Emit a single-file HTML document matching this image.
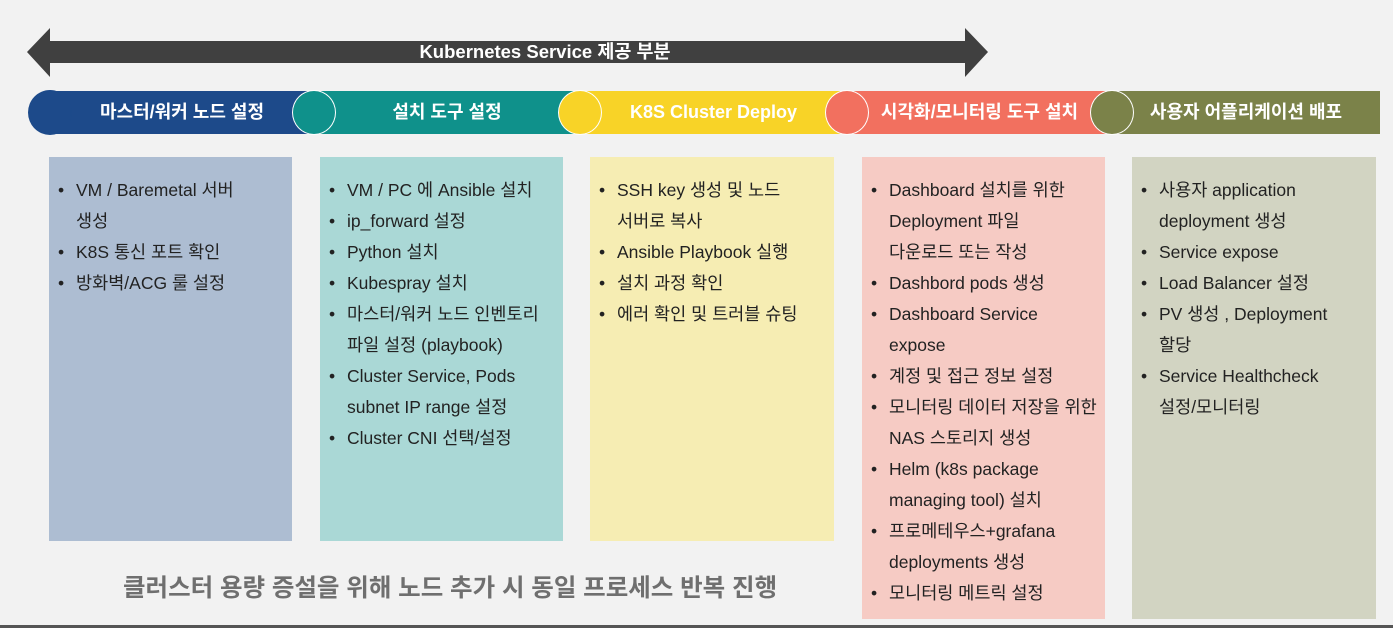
<!DOCTYPE html>
<html><head><meta charset="utf-8"><style>
body{margin:0;width:1393px;height:628px;background:#f2f2f2;position:relative;overflow:hidden;font-family:"Liberation Sans","Noto Sans CJK KR",sans-serif}
.bar{position:absolute;top:91px;height:43px;color:#fff;font-weight:bold;font-size:18px;line-height:43px;text-align:center}
.c{position:absolute;top:90px;width:42px;height:43px;border-radius:50%;border:1.5px solid #fff}
.box{position:absolute;top:157px;box-sizing:border-box;padding:18px 4px 0 27px;font-size:17.5px;line-height:31px;color:#222;white-space:nowrap}
.box div{position:relative}
.box .b:before{content:"•";position:absolute;left:-18px}
</style></head><body>
<svg style="position:absolute;left:0;top:0" width="1393" height="90">
<polygon points="27,52 50,28 50,41 965,41 965,28 988,52 965,77 965,63 50,63 50,77" fill="#404040"/>
<text x="545" y="58" fill="#fff" font-size="18.5" font-weight="bold" text-anchor="middle" font-family="Liberation Sans, Noto Sans CJK KR, sans-serif">Kubernetes Service 제공 부분</text>
</svg>
<div class="bar" style="left:50px;width:264px;background:#1d4a8a">마스터/워커 노드 설정</div>
<div class="bar" style="left:314px;width:266px;background:#0f918b">설치 도구 설정</div>
<div class="bar" style="left:580px;width:267px;background:#f8d327">K8S Cluster Deploy</div>
<div class="bar" style="left:847px;width:265px;background:#f2705f">시각화/모니터링 도구 설치</div>
<div class="bar" style="left:1112px;width:268px;background:#7b8249">사용자 어플리케이션 배포</div>
<div class="c" style="left:28px;background:#1d4a8a;border-color:#1d4a8a"></div>
<div class="c" style="left:292px;background:#0f918b"></div>
<div class="c" style="left:558px;background:#f8d327"></div>
<div class="c" style="left:825px;background:#f2705f"></div>
<div class="c" style="left:1090px;background:#7b8249"></div>
<div class="box" style="left:49px;width:243px;height:384px;background:#adbdd2">
<div class="b">VM / Baremetal 서버</div><div>생성</div><div class="b">K8S 통신 포트 확인</div><div class="b">방화벽/ACG 룰 설정</div></div>
<div class="box" style="left:320px;width:243px;height:384px;background:#aad8d6">
<div class="b">VM / PC 에 Ansible 설치</div><div class="b">ip_forward 설정</div><div class="b">Python 설치</div><div class="b">Kubespray 설치</div><div class="b">마스터/워커 노드 인벤토리</div><div>파일 설정 (playbook)</div><div class="b">Cluster Service, Pods</div><div>subnet IP range 설정</div><div class="b">Cluster CNI 선택/설정</div></div>
<div class="box" style="left:590px;width:244px;height:384px;background:#f6edb3">
<div class="b">SSH key 생성 및 노드</div><div>서버로 복사</div><div class="b">Ansible Playbook 실행</div><div class="b">설치 과정 확인</div><div class="b">에러 확인 및 트러블 슈팅</div></div>
<div class="box" style="left:862px;width:243px;height:462px;background:#f6cbc4">
<div class="b">Dashboard 설치를 위한</div><div>Deployment 파일</div><div>다운로드 또는 작성</div><div class="b">Dashbord pods 생성</div><div class="b">Dashboard Service</div><div>expose</div><div class="b">계정 및 접근 정보 설정</div><div class="b">모니터링 데이터 저장을 위한</div><div>NAS 스토리지 생성</div><div class="b">Helm (k8s package</div><div>managing tool) 설치</div><div class="b">프로메테우스+grafana</div><div>deployments 생성</div><div class="b">모니터링 메트릭 설정</div></div>
<div class="box" style="left:1132px;width:244px;height:462px;background:#d2d4c2">
<div class="b">사용자 application</div><div>deployment 생성</div><div class="b">Service expose</div><div class="b">Load Balancer 설정</div><div class="b">PV 생성 , Deployment</div><div>할당</div><div class="b">Service Healthcheck</div><div>설정/모니터링</div></div>
<div style="position:absolute;left:123px;top:573px;font-size:24.5px;font-weight:bold;color:#6f6f6f;line-height:32px;white-space:nowrap">클러스터 용량 증설을 위해 노드 추가 시 동일 프로세스 반복 진행</div>
<div style="position:absolute;left:0;top:625px;width:1393px;height:3px;background:#555"></div>
</body></html>
